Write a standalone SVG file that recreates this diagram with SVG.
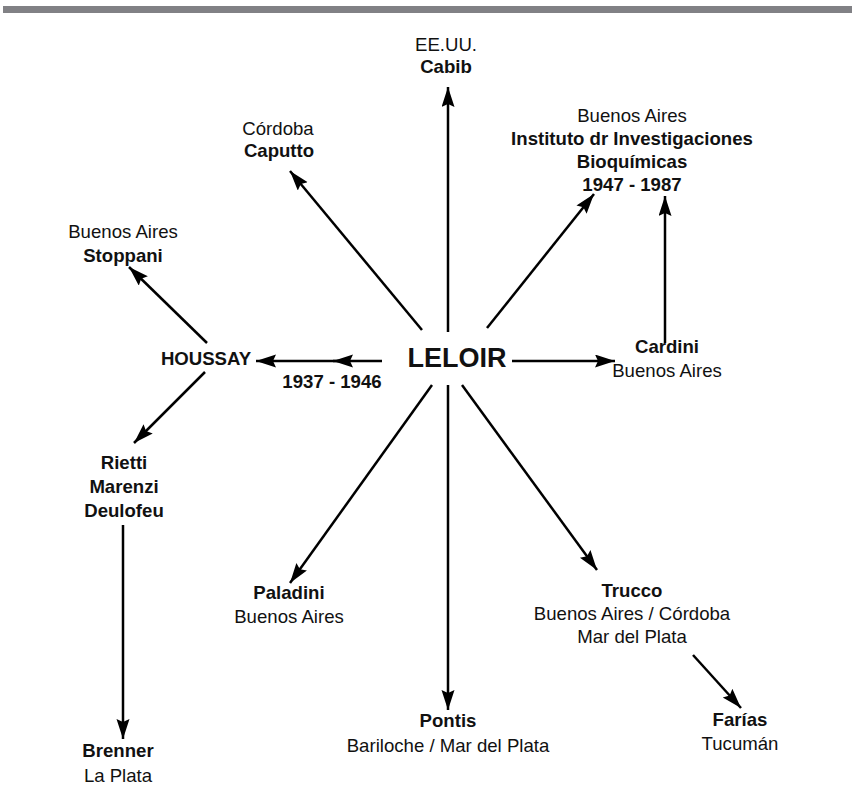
<svg xmlns="http://www.w3.org/2000/svg" width="852" height="799" viewBox="0 0 852 799">
<style>
text{font-family:"Liberation Sans",Arial,sans-serif;font-size:18.6px;fill:#111;text-anchor:middle}
.b{font-weight:bold}
.c line{stroke:#000;stroke-width:2.5;marker-end:url(#ah)}
</style>
<defs>
<marker id="ah" markerUnits="userSpaceOnUse" markerWidth="22" markerHeight="14" refX="20" refY="6.5" orient="auto">
<path d="M0,0 L20,6.5 L0,13 L3,6.5 z" fill="#000"/>
</marker>
</defs>
<rect x="3" y="6" width="849" height="7" fill="#818185"/>
<g class="c" id="connectors">
<line x1="448" y1="332" x2="448" y2="87"/>
<line x1="422" y1="330" x2="290" y2="171"/>
<line x1="487" y1="328" x2="594" y2="194"/>
<line x1="665" y1="343" x2="665" y2="196"/>
<line x1="512" y1="361" x2="615" y2="361"/>
<line x1="382" y1="361" x2="333" y2="361"/>
<line x1="340" y1="361" x2="256" y2="361"/>
<line x1="207" y1="343" x2="129" y2="267"/>
<line x1="205" y1="372" x2="134" y2="443"/>
<line x1="123" y1="525" x2="123" y2="739"/>
<line x1="432" y1="385" x2="290" y2="583"/>
<line x1="448" y1="385" x2="448" y2="710"/>
<line x1="462" y1="385" x2="597" y2="570"/>
<line x1="693" y1="655" x2="741" y2="708"/>
</g>
<g id="leloir"><text class="b" x="457" y="367" style="font-size:27px">LELOIR</text></g>
<g id="cabib"><text x="446" y="51">EE.UU.</text><text class="b" x="446" y="73">Cabib</text></g>
<g id="caputto"><text x="278" y="135">Córdoba</text><text class="b" x="279" y="157">Caputto</text></g>
<g id="instituto"><text x="632" y="122">Buenos Aires</text><text class="b" x="632" y="145">Instituto dr Investigaciones</text><text class="b" x="632" y="168">Bioquímicas</text><text class="b" x="632" y="191">1947 - 1987</text></g>
<g id="stoppani"><text x="123" y="238">Buenos Aires</text><text class="b" x="123" y="262">Stoppani</text></g>
<g id="houssay"><text class="b" x="206" y="365">HOUSSAY</text><text class="b" x="332" y="388">1937 - 1946</text></g>
<g id="cardini"><text class="b" x="667" y="353">Cardini</text><text x="667" y="377">Buenos Aires</text></g>
<g id="rietti"><text class="b" x="124" y="469">Rietti</text><text class="b" x="124" y="493">Marenzi</text><text class="b" x="124" y="517">Deulofeu</text></g>
<g id="brenner"><text class="b" x="118" y="757">Brenner</text><text x="118" y="782">La Plata</text></g>
<g id="paladini"><text class="b" x="289" y="599">Paladini</text><text x="289" y="623">Buenos Aires</text></g>
<g id="pontis"><text class="b" x="448" y="727">Pontis</text><text x="448" y="752">Bariloche / Mar del Plata</text></g>
<g id="trucco"><text class="b" x="632" y="597">Trucco</text><text x="632" y="620">Buenos Aires / Córdoba</text><text x="632" y="643">Mar del Plata</text></g>
<g id="farias"><text class="b" x="740" y="726">Farías</text><text x="740" y="750">Tucumán</text></g>
</svg>
